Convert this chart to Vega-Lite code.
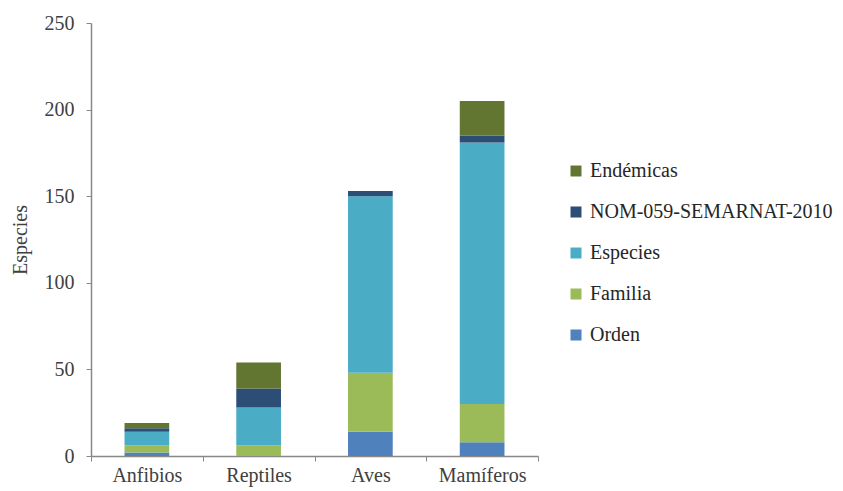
{
  "$schema": "https://vega.github.io/schema/vega-lite/v6.json",
  "width": 447,
  "height": 433,
  "autosize": {"type": "none"},
  "padding": {"left": 91, "top": 23, "right": 305, "bottom": 35},
  "background": "white",
  "config": {
    "view": {"stroke": null},
    "font": "Liberation Serif",
    "axis": {"labelFont": "Liberation Serif", "titleFont": "Liberation Serif"},
    "legend": {"labelFont": "Liberation Serif"}
  },
  "data": {
    "values": [
      {"grupo": "Anfibios", "categoria": "Orden", "valor": 2},
      {"grupo": "Anfibios", "categoria": "Familia", "valor": 4},
      {"grupo": "Anfibios", "categoria": "Especies", "valor": 8},
      {"grupo": "Anfibios", "categoria": "NOM-059-SEMARNAT-2010", "valor": 2},
      {"grupo": "Anfibios", "categoria": "Endémicas", "valor": 3},
      {"grupo": "Reptiles", "categoria": "Orden", "valor": 0},
      {"grupo": "Reptiles", "categoria": "Familia", "valor": 6},
      {"grupo": "Reptiles", "categoria": "Especies", "valor": 22},
      {"grupo": "Reptiles", "categoria": "NOM-059-SEMARNAT-2010", "valor": 11},
      {"grupo": "Reptiles", "categoria": "Endémicas", "valor": 15},
      {"grupo": "Aves", "categoria": "Orden", "valor": 14},
      {"grupo": "Aves", "categoria": "Familia", "valor": 34},
      {"grupo": "Aves", "categoria": "Especies", "valor": 102},
      {"grupo": "Aves", "categoria": "NOM-059-SEMARNAT-2010", "valor": 3},
      {"grupo": "Aves", "categoria": "Endémicas", "valor": 0},
      {"grupo": "Mamíferos", "categoria": "Orden", "valor": 8},
      {"grupo": "Mamíferos", "categoria": "Familia", "valor": 22},
      {"grupo": "Mamíferos", "categoria": "Especies", "valor": 151},
      {"grupo": "Mamíferos", "categoria": "NOM-059-SEMARNAT-2010", "valor": 4},
      {"grupo": "Mamíferos", "categoria": "Endémicas", "valor": 20}
    ]
  },
  "transform": [
    {
      "calculate": "indexof(['Orden', 'Familia', 'Especies', 'NOM-059-SEMARNAT-2010', 'Endémicas'], datum.categoria)",
      "as": "nivel"
    }
  ],
  "mark": {"type": "bar", "width": {"band": 0.4}},
  "encoding": {
    "x": {
      "field": "grupo",
      "type": "nominal",
      "sort": ["Anfibios", "Reptiles", "Aves", "Mamíferos"],
      "scale": {"paddingInner": 0, "paddingOuter": 0},
      "axis": {
        "title": null,
        "labelAngle": 0,
        "labelFont": "Liberation Serif",
        "labelFontSize": 20,
        "labelColor": "#404040",
        "labelPadding": 4,
        "tickBand": "extent",
        "tickSize": 5,
        "tickColor": "#888888",
        "domainColor": "#888888",
        "domainWidth": 1.5,
        "grid": false
      }
    },
    "y": {
      "field": "valor",
      "type": "quantitative",
      "aggregate": "sum",
      "stack": "zero",
      "scale": {"domain": [0, 250]},
      "axis": {
        "title": "Especies",
        "titleFont": "Liberation Serif",
        "titleFontSize": 20,
        "titleFontWeight": "normal",
        "titleColor": "#404040",
        "titlePadding": 14,
        "values": [0, 50, 100, 150, 200, 250],
        "labelFont": "Liberation Serif",
        "labelFontSize": 20,
        "labelColor": "#404040",
        "labelPadding": 12,
        "tickSize": 5,
        "tickColor": "#888888",
        "domainColor": "#888888",
        "domainWidth": 1.5,
        "grid": false
      }
    },
    "order": {"field": "nivel", "type": "quantitative", "sort": "ascending"},
    "color": {
      "field": "categoria",
      "type": "nominal",
      "sort": ["Endémicas", "NOM-059-SEMARNAT-2010", "Especies", "Familia", "Orden"],
      "scale": {
        "domain": ["Endémicas", "NOM-059-SEMARNAT-2010", "Especies", "Familia", "Orden"],
        "range": ["#627531", "#2C4D75", "#4BACC6", "#9BBB59", "#4F81BD"]
      },
      "legend": {
        "title": null,
        "orient": "none",
        "legendX": 475,
        "legendY": 138,
        "symbolType": "square",
        "symbolSize": 121,
        "symbolStrokeWidth": 0,
        "labelFont": "Liberation Serif",
        "labelFontSize": 20,
        "labelColor": "#262626",
        "labelOffset": 4,
        "labelLimit": 400,
        "rowPadding": 21
      }
    }
  }
}
